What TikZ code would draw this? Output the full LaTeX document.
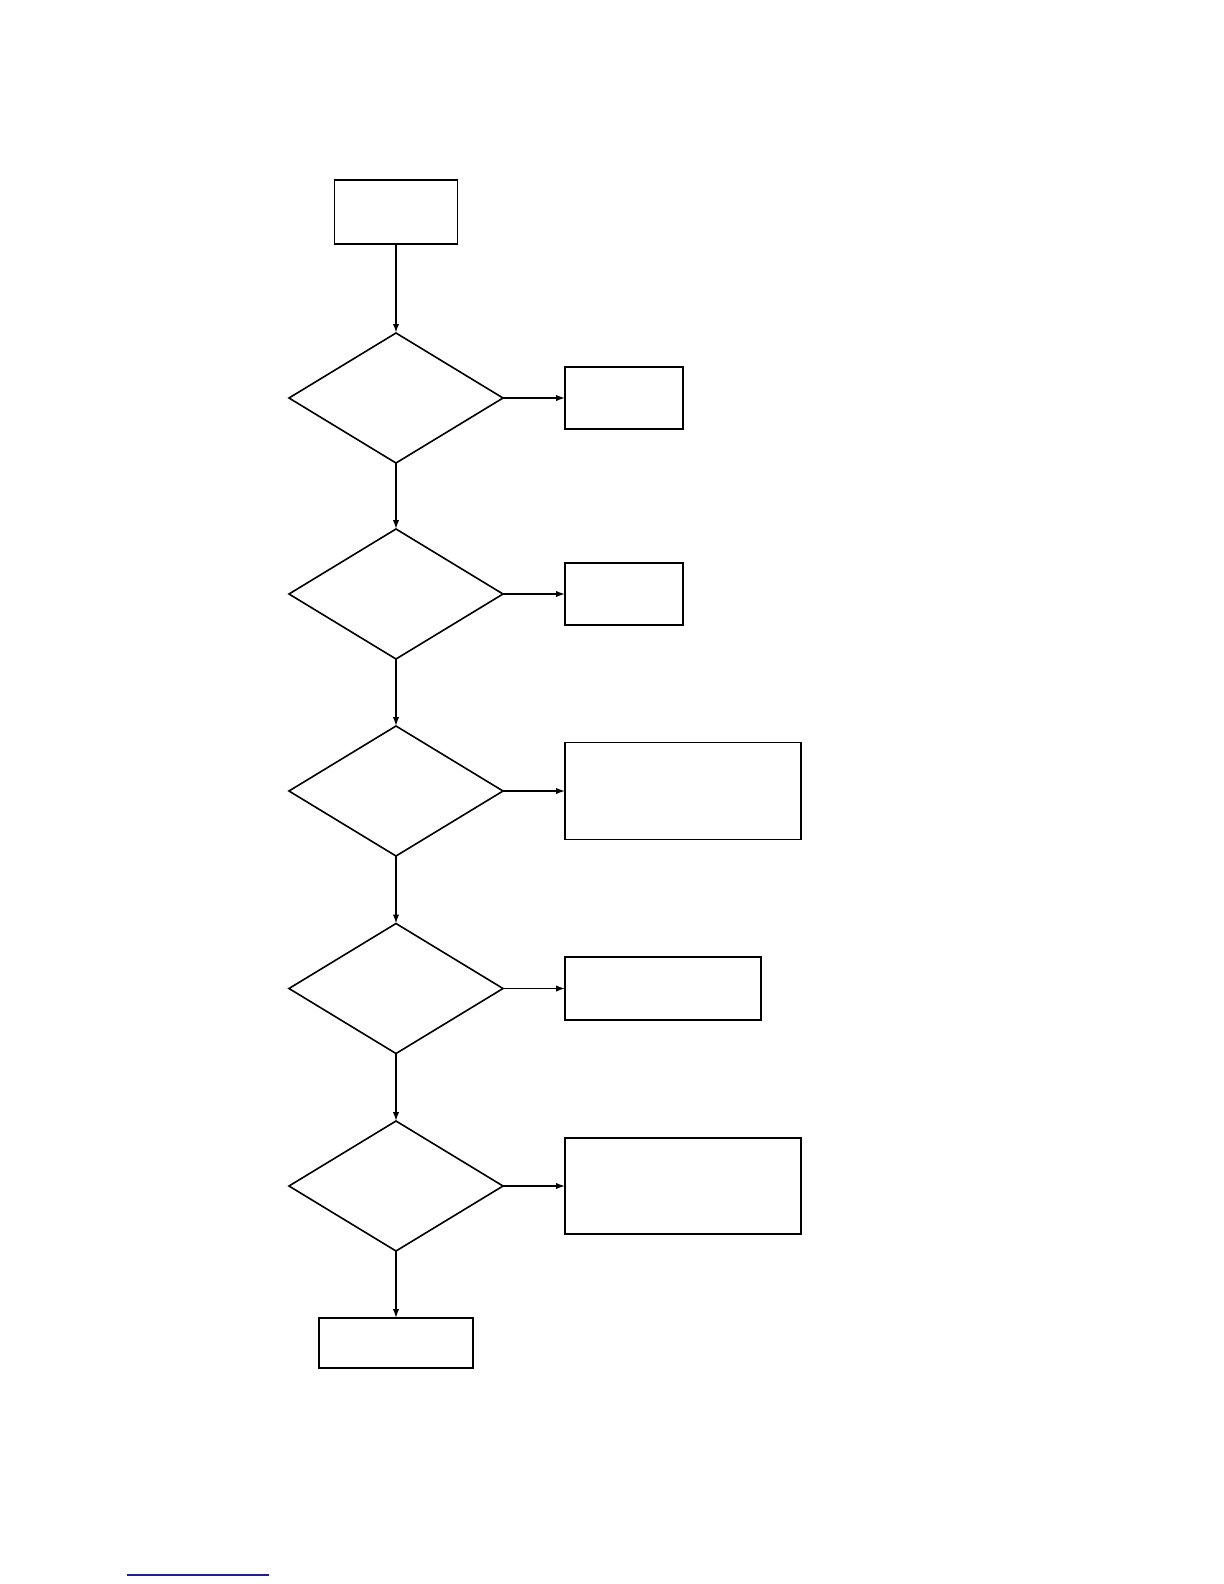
\documentclass[tikz,border=0pt]{standalone}
\usepackage{tikz}
\usetikzlibrary{shapes.geometric, arrows.meta}

\definecolor{rulecol}{RGB}{30,30,150}

\begin{document}
\begin{tikzpicture}[x=0.5bp, y=-0.5bp,
  box/.style={rectangle, draw, line width=0.9bp, inner sep=0pt, outer sep=0pt},
  test/.style={diamond, draw, line width=0.8bp, inner sep=0pt, outer sep=0pt,
    minimum width=107bp, minimum height=65bp},
  link/.style={-{Latex[length=4.5bp, width=3.2bp]}, line width=0.7bp}]

\useasboundingbox (0,0) rectangle (1224,1584);

\node (start) [box, minimum width=61.5bp, minimum height=32bp] at (396,212) {};

\node (t1) [test] at (396,398) {};
\node (r1) [box, minimum width=59bp, minimum height=31bp] at (624,398) {};

\node (t2) [test] at (396,594) {};
\node (r2) [box, minimum width=59bp, minimum height=31bp] at (624,594) {};

\node (t3) [test] at (396,791) {};
\node (r3) [box, minimum width=118bp, minimum height=48.5bp] at (683,791) {};

\node (t4) [test] at (396,988.5) {};
\node (r4) [box, minimum width=98bp, minimum height=31.5bp] at (663,988.5) {};

\node (t5) [test] at (396,1186) {};
\node (r5) [box, minimum width=118bp, minimum height=48bp] at (683,1186) {};

\node (stop) [box, minimum width=77bp, minimum height=25bp] at (396,1343) {};

\draw[link, line width=1bp] (start) -- (t1);
\draw[link] (t1) -- (t2);
\draw[link] (t2) -- (t3);
\draw[link] (t3) -- (t4);
\draw[link] (t4) -- (t5);
\draw[link] (t5) -- (stop);

\draw[link] (t1.east) -- (r1.west);
\draw[link] (t2.east) -- (r2.west);
\draw[link] (t3.east) -- (r3.west);
\draw[link] (t4.east) -- (r4.west);
\draw[link] (t5.east) -- (r5.west);

% rule at the foot of the page
\draw[rulecol, line width=0.9bp] (127,1575) -- (269,1575);

\end{tikzpicture}
\end{document}
